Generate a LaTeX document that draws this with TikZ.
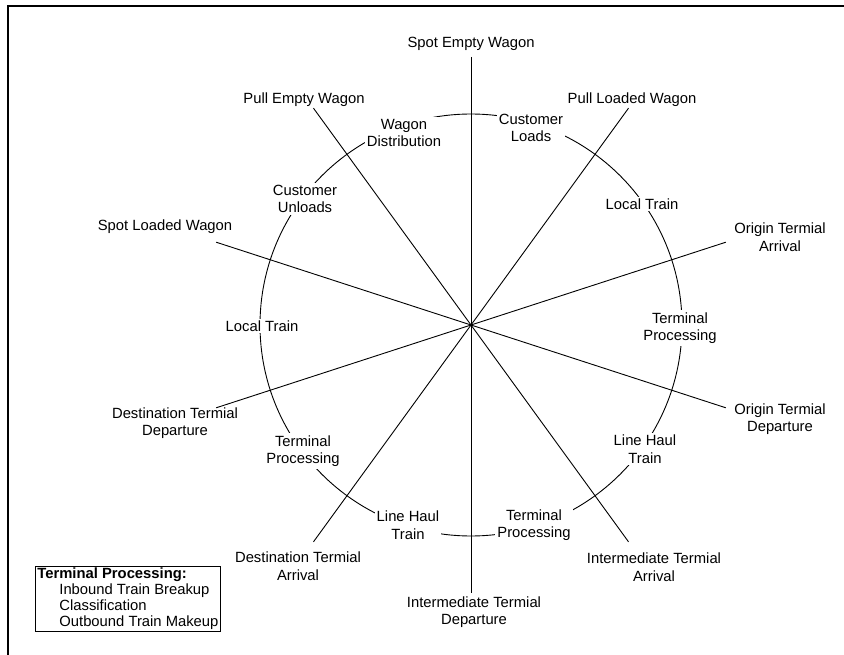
\documentclass[tikz,border=0pt]{standalone}
\usepackage{fontspec}
\setmainfont{Liberation Sans}
\usetikzlibrary{calc}
\begin{document}
\begin{tikzpicture}[x=1pt,y=-1pt,
  lbl/.style={font=\fontsize{14.8}{17.5}\selectfont, align=center, inner sep=2pt},
  ring/.style={lbl, fill=white},
  spoke/.style={line width=0.9pt},
  frameline/.style={line width=2.2pt},
  legendbox/.style={draw, line width=0.8pt, anchor=north west, align=left,
    inner xsep=2pt, inner ysep=1.5pt, font=\fontsize{14.8}{16}\selectfont}]
\useasboundingbox (0,0) rectangle (844,655);
% page frame (top and left edges)
\draw[frameline] (8,655) -- (8,6) -- (844,6);

% hub and the circle of activities
\coordinate (C) at (471,325);
\draw[spoke] (C) circle[radius=211];

% spoke ends, every 36 degrees
\coordinate (e90)  at ($(C)+(-90:268)$);
\coordinate (e270) at ($(C)+(90:268)$);
\coordinate (e126) at ($(C)+(-126:268)$);
\coordinate (e306) at ($(C)+(54:268)$);
\coordinate (e54)  at ($(C)+(-54:268)$);
\coordinate (e234) at ($(C)+(126:268)$);
\coordinate (e162) at ($(C)+(-162:268)$);
\coordinate (e342) at ($(C)+(18:268)$);
\coordinate (e18)  at ($(C)+(-18:268)$);
\coordinate (e198) at ($(C)+(162:268)$);

\draw[spoke] (e90) -- (e270);
\draw[spoke] (e126) -- (e306);
\draw[spoke] (e54) -- (e234);
\draw[spoke] (e162) -- (e342);
\draw[spoke] (e18) -- (e198);

% events at the spoke ends
\node[lbl] (spotE) at (471,44)  {Spot Empty Wagon};
\node[lbl] (pullE) at (304,100) {Pull Empty Wagon};
\node[lbl] (pullL) at (632,100) {Pull Loaded Wagon};
\node[lbl] (spotL) at (165,227) {Spot Loaded Wagon};
\node[lbl] (ota)   at (780,237) {Origin Termial\\Arrival};
\node[lbl] (otd)   at (780,419) {Origin Termial\\Departure};
\node[lbl] (dtd)   at (175,423) {Destination Termial\\Departure};
\node[lbl] (dta)   at (298,566) {Destination Termial\\Arrival};
\node[lbl] (ita)   at (654,567) {Intermediate Termial\\Arrival};
\node[lbl] (itd)   at (474,612) {Intermediate Termial\\Departure};

% activities sitting on the circle
\node[ring] (cload)  at (531,128) {Customer\\Loads};
\node[ring] (wdist)  at (404,133) {Wagon\\Distribution};
\node[ring] (cunl)   at (305,199) {Customer\\Unloads};
\node[ring] (ltr)    at (642,204) {Local Train};
\node[ring] (tpr)    at (680,328) {Terminal\\Processing};
\node[ring] (lhr)    at (645,449) {Line Haul\\Train};
\node[ring] (tpbr)   at (534,525) {Terminal\\Processing};
\node[ring] (lhbl)   at (408,525) {Line Haul\\Train};
\node[ring] (tpbl)   at (303,451) {Terminal\\Processing};
\node[ring] (ltl)    at (262,326) {Local Train};

% legend
\node[legendbox] (legend) at (35,566)
  {\textbf{Terminal Processing:}\\
   \hspace*{22pt}Inbound Train Breakup\\
   \hspace*{22pt}Classification\\
   \hspace*{22pt}Outbound Train Makeup};
\end{tikzpicture}
\end{document}
